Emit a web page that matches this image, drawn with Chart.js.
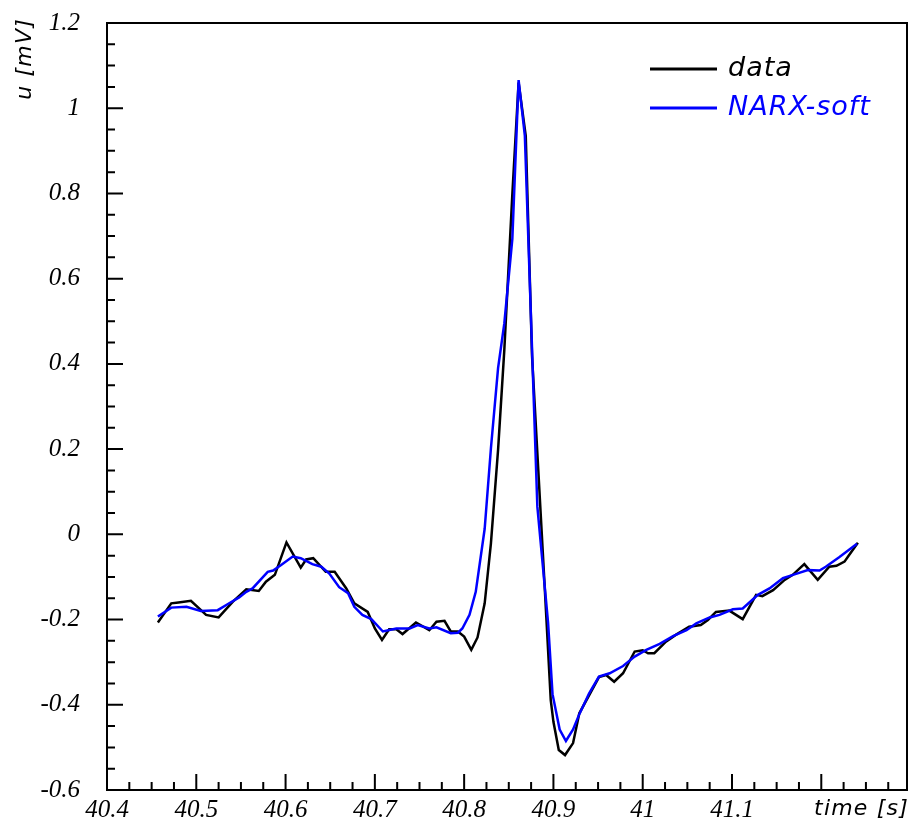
<!DOCTYPE html>
<html>
<head>
<meta charset="utf-8">
<script src="https://cdn.jsdelivr.net/npm/chart.js@4.4.1/dist/chart.umd.min.js"></script>
<style>
  html, body { margin: 0; padding: 0; background: #fff; }
  canvas { display: block; }
</style>
</head>
<body>
<canvas id="grafico" width="912" height="824"></canvas>
<script>
// measured ECG (black)
const dataTime = [40.457, 40.472, 40.480, 40.494, 40.511, 40.525, 40.541, 40.556, 40.570, 40.578,
  40.588, 40.601, 40.617, 40.623, 40.631, 40.645, 40.655, 40.668, 40.677, 40.692,
  40.700, 40.708, 40.716, 40.724, 40.731, 40.746, 40.761, 40.769, 40.778, 40.785,
  40.793, 40.800, 40.808, 40.815, 40.823, 40.830, 40.838, 40.845, 40.854, 40.861,
  40.869, 40.876, 40.890, 40.897, 40.900, 40.906, 40.913, 40.922, 40.929, 40.951,
  40.959, 40.968, 40.978, 40.991, 41.000, 41.006, 41.013, 41.026, 41.037, 41.052,
  41.065, 41.073, 41.082, 41.097, 41.112, 41.127, 41.134, 41.146, 41.159, 41.168,
  41.181, 41.196, 41.209, 41.217, 41.226, 41.231, 41.241];
const dataU = [-0.207, -0.162, -0.160, -0.156, -0.189, -0.195, -0.158, -0.129, -0.133, -0.111,
  -0.095, -0.019, -0.078, -0.059, -0.056, -0.088, -0.088, -0.127, -0.162, -0.182,
  -0.221, -0.248, -0.223, -0.223, -0.234, -0.207, -0.225, -0.205, -0.203, -0.228,
  -0.228, -0.240, -0.271, -0.242, -0.162, -0.021, 0.198, 0.433, 0.799, 1.060,
  0.935, 0.420, -0.115, -0.389, -0.440, -0.506, -0.518, -0.490, -0.420, -0.335,
  -0.330, -0.346, -0.326, -0.275, -0.272, -0.279, -0.279, -0.252, -0.236, -0.217,
  -0.213, -0.201, -0.182, -0.179, -0.199, -0.142, -0.145, -0.131, -0.107, -0.095,
  -0.070, -0.107, -0.076, -0.074, -0.064, -0.049, -0.020];

// NARX-soft model output (blue)
const narxTime = [40.457, 40.472, 40.489, 40.505, 40.524, 40.535, 40.548, 40.556, 40.563, 40.580,
  40.586, 40.595, 40.608, 40.617, 40.630, 40.640, 40.649, 40.660, 40.670, 40.677,
  40.686, 40.696, 40.709, 40.724, 40.739, 40.748, 40.761, 40.769, 40.785, 40.793,
  40.798, 40.806, 40.813, 40.823, 40.830, 40.838, 40.845, 40.854, 40.861, 40.868,
  40.882, 40.894, 40.899, 40.907, 40.914, 40.922, 40.929, 40.940, 40.951, 40.963,
  40.978, 40.991, 41.004, 41.019, 41.034, 41.049, 41.060, 41.075, 41.086, 41.101,
  41.112, 41.129, 41.142, 41.157, 41.170, 41.185, 41.198, 41.205, 41.220, 41.240];
const narxU = [-0.193, -0.172, -0.170, -0.180, -0.178, -0.164, -0.148, -0.135, -0.127, -0.088,
  -0.085, -0.072, -0.052, -0.056, -0.070, -0.076, -0.092, -0.124, -0.138, -0.170,
  -0.189, -0.199, -0.228, -0.221, -0.221, -0.213, -0.221, -0.218, -0.232, -0.231,
  -0.221, -0.189, -0.135, 0.013, 0.202, 0.390, 0.495, 0.694, 1.066, 0.935,
  0.065, -0.207, -0.375, -0.458, -0.485, -0.458, -0.422, -0.373, -0.334, -0.326,
  -0.309, -0.287, -0.271, -0.257, -0.239, -0.225, -0.209, -0.195, -0.189, -0.176,
  -0.174, -0.142, -0.127, -0.103, -0.094, -0.084, -0.085, -0.076, -0.054, -0.022];

const xMin = 40.4, xMax = 41.296, xStep = 0.1, xMinor = 0.025;
const yMin = -0.6, yMax = 1.2, yStep = 0.2, yMinor = 0.05;
const xTitle = "time [s]";
const yTitle = "u [mV]";
const legendItems = [
  { label: "data", color: "#000000" },
  { label: "NARX-soft", color: "#0000ff" },
];

const toPoints = (xs, ys) => xs.map((x, i) => ({ x, y: ys[i] }));
const tickFont = { family: "'Liberation Serif', 'Times New Roman', serif", size: 25, style: "italic" };
const sansItalic = (size) => `italic ${size}px 'DejaVu Sans', Verdana, sans-serif`;

// marco, marcas hacia dentro, títulos de ejes y leyenda
const marcoPlugin = {
  id: "marco",
  afterDraw(chart) {
    const { ctx, chartArea: a, scales } = chart;
    const sx = scales.x, sy = scales.y;
    ctx.save();
    ctx.strokeStyle = "#000";
    ctx.lineWidth = 2;
    ctx.strokeRect(a.left, a.top, a.right - a.left, a.bottom - a.top);

    ctx.beginPath();
    for (let i = 0; xMin + i * xMinor <= xMax + 1e-9; i++) {
      const px = sx.getPixelForValue(xMin + i * xMinor);
      const len = i % 4 === 0 ? 16 : 8;
      ctx.moveTo(px, a.bottom);
      ctx.lineTo(px, a.bottom - len);
    }
    for (let i = 0; yMin + i * yMinor <= yMax + 1e-9; i++) {
      const py = sy.getPixelForValue(yMin + i * yMinor);
      const len = i % 4 === 0 ? 16 : 8;
      ctx.moveTo(a.left, py);
      ctx.lineTo(a.left + len, py);
    }
    ctx.stroke();

    // títulos
    ctx.fillStyle = "#000";
    ctx.font = sansItalic(22);
    ctx.letterSpacing = "1.2px";
    ctx.textAlign = "right";
    ctx.textBaseline = "alphabetic";
    ctx.fillText(xTitle, a.right + 2, a.bottom + 25);

    ctx.save();
    ctx.translate(31, 18);
    ctx.rotate(-Math.PI / 2);
    ctx.textAlign = "right";
    ctx.fillText(yTitle, 0, 0);
    ctx.restore();

    // leyenda
    ctx.font = sansItalic(27);
    ctx.letterSpacing = "1px";
    ctx.textAlign = "left";
    ctx.lineWidth = 3;
    legendItems.forEach((item, i) => {
      const y = 69 + i * 39;
      ctx.strokeStyle = item.color;
      ctx.beginPath();
      ctx.moveTo(650, y);
      ctx.lineTo(717, y);
      ctx.stroke();
      ctx.fillStyle = item.color;
      ctx.fillText(item.label, 728, y + 7);
    });
    ctx.restore();
  },
};

const grafico = new Chart(document.getElementById("grafico"), {
  type: "line",
  data: {
    datasets: [
      {
        label: "data",
        data: toPoints(dataTime, dataU),
        borderColor: "#000000",
        borderWidth: 2.5,
        order: 2,
      },
      {
        label: "NARX-soft",
        data: toPoints(narxTime, narxU),
        borderColor: "#0000ff",
        borderWidth: 2.5,
        order: 1,
      },
    ],
  },
  options: {
    responsive: false,
    animation: false,
    devicePixelRatio: 1,
    layout: { padding: { top: 23, right: 5, left: 0, bottom: 0 } },
    elements: { point: { radius: 0 }, line: { tension: 0 } },
    plugins: { legend: { display: false }, tooltip: { enabled: false } },
    scales: {
      x: {
        type: "linear",
        min: xMin,
        max: xMax,
        grid: { display: false, drawTicks: false },
        border: { display: false },
        afterFit: (scale) => {
          scale.height = 34;
          scale.paddingLeft = 0;
          scale.paddingRight = 0;
        },
        ticks: {
          stepSize: xStep,
          includeBounds: false,
          autoSkip: false,
          maxRotation: 0,
          padding: 5,
          color: "#000",
          font: tickFont,
          callback: (v) => (Math.abs(v - 41.2) < 1e-6 ? "" : String(Math.round(v * 10) / 10)),
        },
      },
      y: {
        min: yMin,
        max: yMax,
        grid: { display: false, drawTicks: false },
        border: { display: false },
        afterFit: (scale) => {
          scale.width = 107;
          scale.paddingTop = 0;
          scale.paddingBottom = 0;
        },
        ticks: {
          stepSize: yStep,
          autoSkip: false,
          padding: 27,
          color: "#000",
          font: tickFont,
          callback: (v) => String(Math.round(v * 10) / 10),
        },
      },
    },
  },
  plugins: [marcoPlugin],
});
</script>
</body>
</html>
